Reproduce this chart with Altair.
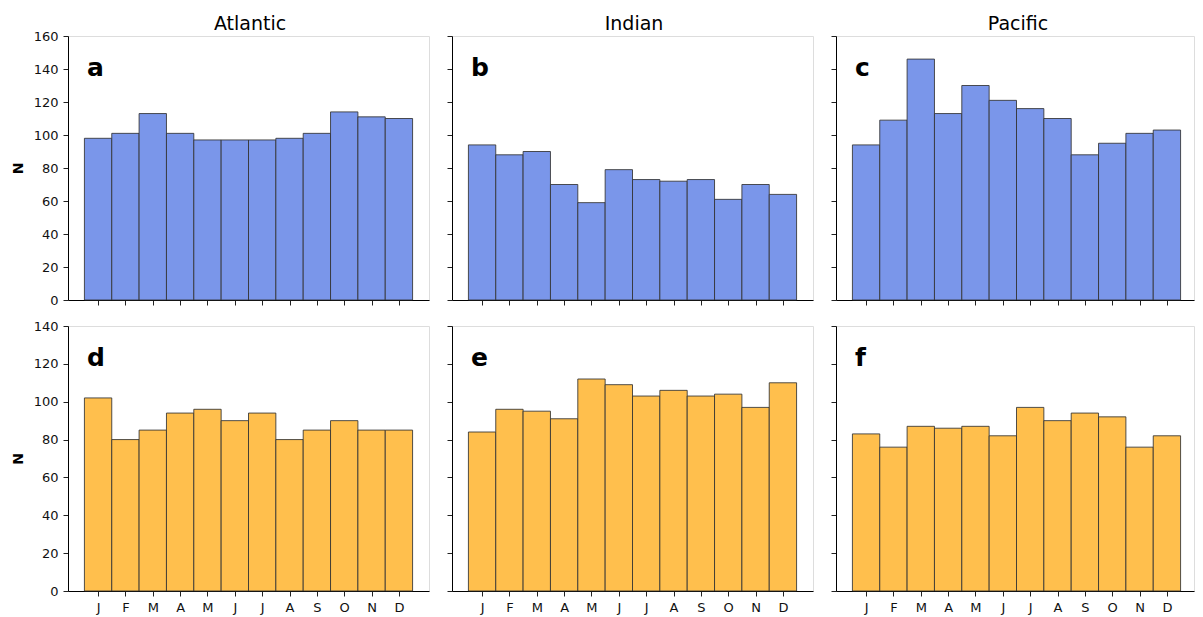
import altair as alt
import pandas as pd

MONTH_NUM = list(range(1, 13))
MONTH_LETTERS = ["J", "F", "M", "A", "M", "J", "J", "A", "S", "O", "N", "D"]
OCEANS = ["Atlantic", "Indian", "Pacific"]
LETTERS_TOP = ["a", "b", "c"]
LETTERS_BOTTOM = ["d", "e", "f"]

TOP_ATLANTIC = [98, 101, 113, 101, 97, 97, 97, 98, 101, 114, 111, 110]
TOP_INDIAN = [94, 88, 90, 70, 59, 79, 73, 72, 73, 61, 70, 64]
TOP_PACIFIC = [94, 109, 146, 113, 130, 121, 116, 110, 88, 95, 101, 103]

BOTTOM_ATLANTIC = [102, 80, 85, 94, 96, 90, 94, 80, 85, 90, 85, 85]
BOTTOM_INDIAN = [84, 96, 95, 91, 112, 109, 103, 106, 103, 104, 97, 110]
BOTTOM_PACIFIC = [83, 76, 87, 86, 87, 82, 97, 90, 94, 92, 76, 82]

TOP_Y_TICKS = list(range(0, 161, 20))
BOTTOM_Y_TICKS = list(range(0, 141, 20))

BLUE = "#7A96EA"
ORANGE = "#FFBF4D"
FONT = "DejaVu Sans"

WIDTHS = [361, 361, 358]
HEIGHTS = [264, 265]
PX_PER_UNIT = 361 / 13.2

label_expr = "[" + ",".join("'%s'" % m for m in MONTH_LETTERS) + "][datum.value - 1]"

AX = dict(grid=False, tickSize=5, labelPadding=2, labelFont=FONT, labelFontSize=13,
          labelColor="#111", domainColor="black", tickColor="#222")


def panel(values, letter, yticks, color, col, row, title=None):
    df = pd.DataFrame({
        "month": MONTH_NUM,
        "start": [m - 0.5 for m in MONTH_NUM],
        "end": [m + 0.5 for m in MONTH_NUM],
        "n": values,
    })
    w = WIDTHS[col]
    dom_hi = -0.1 + w / PX_PER_UNIT
    if row == 1:
        xaxis = alt.Axis(values=MONTH_NUM, labelExpr=label_expr, title=None,
                         **dict(AX, labelPadding=5))
    else:
        xaxis = alt.Axis(values=MONTH_NUM, labels=False, title=None, **AX)
    if col == 0:
        yaxis = alt.Axis(values=yticks, title="N", titleFontWeight="bold", titleFontSize=14,
                         titleFont=FONT, titleColor="black", titlePadding=8,
                         **dict(AX, labelPadding=5))
    else:
        yaxis = alt.Axis(values=yticks, title=None, **dict(AX, labels=False))
    bars = alt.Chart(df).mark_bar(
        fill=color, stroke="#333", strokeWidth=1, strokeOpacity=0.85
    ).encode(
        x=alt.X("start:Q", scale=alt.Scale(domain=[-0.1, dom_hi], nice=False, zero=False), axis=xaxis),
        x2="end:Q",
        y=alt.Y("n:Q", scale=alt.Scale(domain=[0, yticks[-1]], nice=False), axis=yaxis),
        y2=alt.datum(0),
    )
    layers = [bars]
    letter_txt = alt.Chart(pd.DataFrame({"label": [letter]})).mark_text(
        align="left", baseline="alphabetic", fontSize=25, fontWeight="bold",
        font=FONT, color="black"
    ).encode(x=alt.value(19), y=alt.value(40), text="label:N")
    layers.append(letter_txt)
    if title is not None:
        title_txt = alt.Chart(pd.DataFrame({"label": [title]})).mark_text(
            align="center", baseline="alphabetic", fontSize=19, font=FONT, color="black"
        ).encode(x=alt.value(182), y=alt.value(-6), text="label:N")
        layers.append(title_txt)
    return alt.layer(*layers).properties(width=w, height=HEIGHTS[row])


top_vals = [TOP_ATLANTIC, TOP_INDIAN, TOP_PACIFIC]
bot_vals = [BOTTOM_ATLANTIC, BOTTOM_INDIAN, BOTTOM_PACIFIC]

top_row = alt.hconcat(
    *[panel(top_vals[i], LETTERS_TOP[i], TOP_Y_TICKS, BLUE, i, 0, OCEANS[i]) for i in range(3)],
    spacing=16,
)
bottom_row = alt.hconcat(
    *[panel(bot_vals[i], LETTERS_BOTTOM[i], BOTTOM_Y_TICKS, ORANGE, i, 1) for i in range(3)],
    spacing=16,
)

chart = alt.vconcat(top_row, bottom_row, spacing=11).properties(
    padding={"left": 2, "top": 6, "right": 0, "bottom": 0}
).configure_view(
    stroke="#777", strokeWidth=1
).configure(background="white")

chart.save("out.html", embed_options={"renderer": "svg", "actions": False})
